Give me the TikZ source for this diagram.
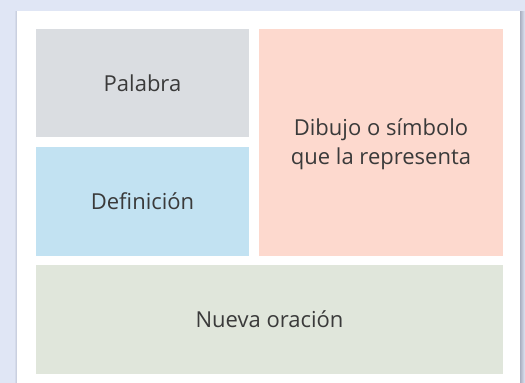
\documentclass[tikz,border=0pt]{standalone}
\usepackage{fontspec}
\setmainfont{Open Sans}
\definecolor{bgc}{HTML}{E0E6F5}
\definecolor{grayc}{HTML}{DADDE1}
\definecolor{bluec}{HTML}{C2E2F2}
\definecolor{pinkc}{HTML}{FDD9CE}
\definecolor{greenc}{HTML}{E0E6DB}
\definecolor{txt}{HTML}{3A3A3A}
\definecolor{shad}{HTML}{A9AFC0}
\begin{document}
\begin{tikzpicture}[x=1pt,y=-1pt,
  cell/.style={draw=none,inner sep=0pt},
  lab/.style={text=txt,font=\fontsize{22}{29}\selectfont,align=center}]
\useasboundingbox (0,0) rectangle (525,383);
\fill[bgc] (0,0) rectangle (525,383);
\shade[left color=shad,right color=bgc] (520,11) rectangle (525,383);
\shade[left color=bgc,right color=shad!60!bgc] (14,11) rectangle (17,383);
\fill[white] (17,11) rectangle (520,383);
\fill[grayc] (36,29) rectangle (249,137);
\fill[bluec] (36,147) rectangle (249,256);
\fill[pinkc] (259,29) rectangle (503,256);
\fill[greenc] (36,265) rectangle (503,374);
\node[lab] (palabra) at (142.5,83) {Palabra};
\node[lab] (def) at (142.5,201.5) {Definición};
\node[lab] (dib) at (381,144) {Dibujo o símbolo\\que la representa};
\node[lab] (nueva) at (269.5,319.5) {Nueva oración};
\end{tikzpicture}
\end{document}
